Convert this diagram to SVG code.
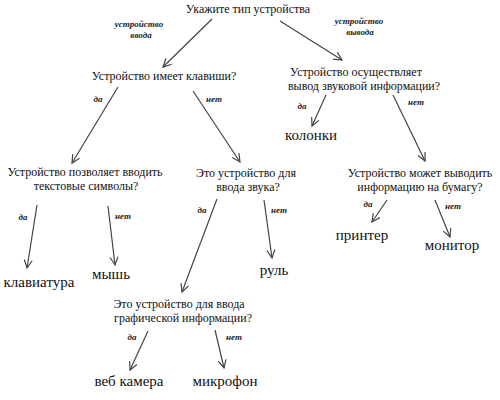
<svg xmlns="http://www.w3.org/2000/svg" width="500" height="400" viewBox="0 0 500 400" font-family="'Liberation Serif', 'DejaVu Serif', serif">
<defs>
<marker id="arr" markerUnits="userSpaceOnUse" markerWidth="12" markerHeight="12" refX="9" refY="5" orient="auto">
<path d="M1,1 L9,5 L1,9" fill="none" stroke="#444" stroke-width="1.2"/>
</marker>
<style>
text{fill:#111;text-anchor:middle}
.q{font-size:12px;font-family:'Liberation Serif','DejaVu Serif',serif}
.a{font-size:15px;font-family:'Liberation Serif','DejaVu Serif',serif}
.l{font-size:9px;font-style:italic;font-weight:bold;fill:#222;font-family:'Liberation Serif','DejaVu Serif',serif}
.c line{stroke:#444;stroke-width:1.2;marker-end:url(#arr)}
</style>
</defs>
<rect width="500" height="400" fill="#fff"/>
<g id="connectors" class="c">
<line x1="212" y1="19" x2="163" y2="67"/>
<line x1="280" y1="21" x2="342" y2="60"/>
<line x1="118" y1="87" x2="72" y2="163"/>
<line x1="193" y1="91" x2="240" y2="162"/>
<line x1="326" y1="95" x2="312" y2="126"/>
<line x1="393" y1="95" x2="425" y2="161"/>
<line x1="37" y1="205" x2="27" y2="268"/>
<line x1="108" y1="206" x2="115" y2="265"/>
<line x1="217" y1="199" x2="182" y2="292"/>
<line x1="264" y1="200" x2="272" y2="258"/>
<line x1="387" y1="200" x2="372" y2="222"/>
<line x1="435" y1="200" x2="450" y2="237"/>
<line x1="148" y1="331" x2="130" y2="370"/>
<line x1="215" y1="330" x2="224" y2="368"/>
</g>
<g id="edge-labels">
<text class="l" x="139" y="27">устройство</text>
<text class="l" x="141" y="38">ввода</text>
<text class="l" x="359" y="24">устройство</text>
<text class="l" x="360" y="35">вывода</text>
<text class="l" x="98" y="102">да</text>
<text class="l" x="214" y="102">нет</text>
<text class="l" x="302" y="109">да</text>
<text class="l" x="416" y="105">нет</text>
<text class="l" x="23" y="220">да</text>
<text class="l" x="123" y="219">нет</text>
<text class="l" x="202" y="213">да</text>
<text class="l" x="279" y="213">нет</text>
<text class="l" x="368" y="207">да</text>
<text class="l" x="453" y="209">нет</text>
<text class="l" x="132" y="340">да</text>
<text class="l" x="234" y="340">нет</text>
</g>
<g id="root"><text class="q" x="248" y="13">Укажите тип устройства</text></g>
<g id="q-keys"><text class="q" x="164" y="80">Устройство имеет клавиши?</text></g>
<g id="q-sound-out"><text class="q" x="356" y="75.5">Устройство осуществляет</text><text class="q" x="364" y="89.5">вывод звуковой информации?</text></g>
<g id="q-text"><text class="q" x="85" y="176">Устройство позволяет вводить</text><text class="q" x="86" y="190">текстовые символы?</text></g>
<g id="q-sound-in"><text class="q" x="246" y="177">Это устройство для</text><text class="q" x="248" y="191">ввода звука?</text></g>
<g id="q-paper"><text class="q" x="420" y="176.5">Устройство может выводить</text><text class="q" x="420" y="190.5">информацию на бумагу?</text></g>
<g id="q-graphic"><text class="q" x="179" y="308">Это устройство для ввода</text><text class="q" x="183" y="322">графической информации?</text></g>
<g id="keyboard"><text class="a" x="39" y="287">клавиатура</text></g>
<g id="mouse"><text class="a" x="111" y="279">мышь</text></g>
<g id="wheel"><text class="a" x="274" y="275">руль</text></g>
<g id="speakers"><text class="a" x="311" y="140">колонки</text></g>
<g id="printer"><text class="a" x="362" y="240">принтер</text></g>
<g id="monitor"><text class="a" x="452" y="250">монитор</text></g>
<g id="webcam"><text class="a" x="129" y="386">веб камера</text></g>
<g id="mic"><text class="a" x="225" y="386">микрофон</text></g>
</svg>
